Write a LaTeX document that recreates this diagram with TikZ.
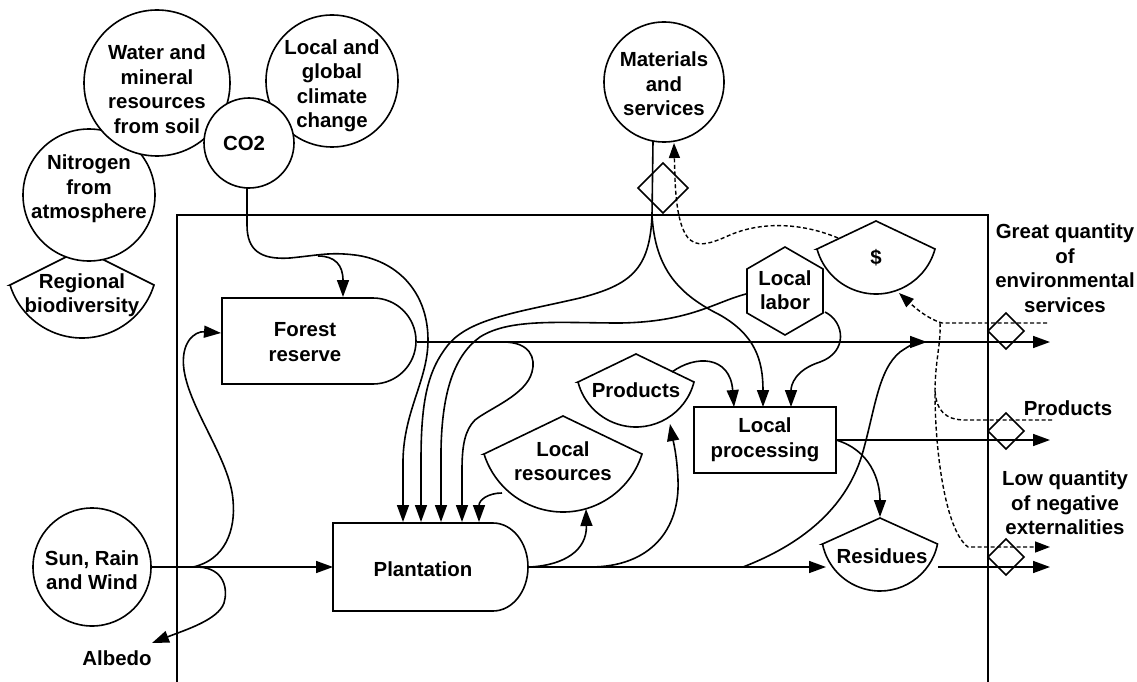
\documentclass[tikz,border=0pt]{standalone}
\usepackage{fontspec}
\setmainfont{Liberation Sans}
\usetikzlibrary{arrows.meta}
\newcommand{\drawtank}[5]{%
  \pgfmathsetmacro\tkd{#5-#3}%
  \pgfmathsetmacro\tkR{(#4*#4+\tkd*\tkd)/(2*\tkd)}%
  \pgfmathsetmacro\tka{asin((\tkR-\tkd)/\tkR)}%
  \pgfmathsetmacro\tkb{180-\tka}%
  \draw[fill=white] (#1-#4,#3) -- (#1,#2) -- (#1+#4,#3) arc[start angle=\tka, end angle=\tkb, radius=\tkR] -- cycle;}
\newcommand{\drawdiamond}[3]{%
  \draw (#1-#3,#2) -- (#1,#2-#3) -- (#1+#3,#2) -- (#1,#2+#3) -- cycle;}
\begin{document}
\begin{tikzpicture}[x=1pt,y=-1pt,line width=1.6pt,
  lbl/.style={font=\bfseries\fontsize{20.4}{24.5}\selectfont,align=center,inner sep=0pt},
  circ/.style={draw,circle,fill=white,inner sep=0pt},
  flow/.style={-{Triangle[length=17pt,width=12pt]}},
  money/.style={dash pattern=on 4pt off 2.5pt,line width=1.4pt},
  moneyflow/.style={money,-{Triangle[length=15pt,width=11pt]}}]
\useasboundingbox (0,0) rectangle (1137,682);

% system frame
\draw (177,682) -- (177,215) -- (988,215) -- (988,682);

% outside sources
\drawtank{82}{249}{285}{72}{338}
\node[lbl] (biodiv) at (82,295) {Regional\\biodiversity};
\node[circ,minimum size=132pt] (nitrogen) at (89,195) {};
\node[lbl] at (89,189) {Nitrogen\\from\\atmosphere};
\node[circ,minimum size=146pt] (water) at (157,83) {};
\node[lbl] at (157,89) {Water and\\mineral\\resources\\from soil};
\node[circ,minimum size=132pt] (climate) at (332,81) {};
\node[lbl] at (332,86) {Local and\\global\\climate\\change};
\node[circ,minimum size=90pt] (co2) at (249,143) {};
\node[lbl] at (244,143) {CO2};
\node[circ,minimum size=120pt] (materials) at (664,82) {};
\node[lbl] at (664,84) {Materials\\and\\services};
\node[circ,minimum size=118pt] (sun) at (92,567) {};
\node[lbl] at (92,570) {Sun, Rain\\and Wind};
\node[lbl] (albedo) at (117,658) {Albedo};

% inner storages / producers
\draw (222,298) -- (373,298) arc[start angle=-90,end angle=90,radius=43] -- (222,384) -- cycle;
\node[lbl] (forest) at (305,342) {Forest\\reserve};
\draw (333,523) -- (493,523) arc[start angle=-90,end angle=90,x radius=35,y radius=44] -- (333,611) -- cycle;
\node[lbl] (plantation) at (423,569) {Plantation};
\drawtank{563}{416}{454}{79}{512}
\node[lbl] (locres) at (563,461) {Local\\resources};
\drawtank{636}{354}{382}{58}{427}
\node[lbl] (products) at (636,390) {Products};
\node[draw,lbl,minimum width=142pt,minimum height=66pt] (proc) at (765,440) {Local\\processing};
\draw (785,247) -- (823,269) -- (823,313) -- (785,335) -- (747,313) -- (747,269) -- cycle;
\node[lbl] (labor) at (785,290) {Local\\labor};
\drawtank{876}{221}{249}{59}{294}
\node[lbl] (dollar) at (876,258) {\$};
\drawtank{880}{518}{544}{57.5}{591}
\node[lbl] (residues) at (882,556) {Residues};

% transactions
\drawdiamond{663}{188}{25}
\drawdiamond{1006}{331}{18}
\drawdiamond{1006}{431}{18}
\drawdiamond{1006}{557}{18}

% output labels
\node[lbl] (greatq) at (1065,268) {Great quantity\\of\\environmental\\services};
\node[lbl] (prodlbl) at (1068,408) {Products};
\node[lbl] (lowq) at (1065,503) {Low quantity\\of negative\\externalities};

% connection points
\coordinate (sunE) at (151,567);
\coordinate (plW) at (333,567);
\coordinate (sunJ) at (193,567);
\coordinate (sunJ2) at (198,567);
\coordinate (forW) at (221,333);
\coordinate (albT) at (152,643);
\coordinate (forE) at (417,342);
\coordinate (forJ) at (503,342);
\coordinate (esOut) at (1050,342);
\coordinate (esJ) at (927,342);
\coordinate (co2S) at (247,188);
\coordinate (co2J) at (318,256);
\coordinate (forN) at (343,297);
\coordinate (plN1) at (403,522);
\coordinate (plN2) at (421,522);
\coordinate (plN3) at (441,522);
\coordinate (plN4) at (462,522);
\coordinate (plN5) at (479,522);
\coordinate (matS) at (653,141);
\coordinate (matJ) at (652,215);
\coordinate (matSE) at (674,143);
\coordinate (procN1) at (734,407);
\coordinate (procN2) at (763,407);
\coordinate (procN3) at (791,407);
\coordinate (labW) at (746,294);
\coordinate (labSE) at (825,312);
\coordinate (prodNE) at (672,372);
\coordinate (prodS) at (670,424);
\coordinate (lrW) at (502,493);
\coordinate (lrS) at (586,509);
\coordinate (plE) at (528,567);
\coordinate (plJ1) at (530,567);
\coordinate (plJ2) at (590,567);
\coordinate (plJ3) at (743,567);
\coordinate (resW) at (826,567);
\coordinate (procE) at (836,440);
\coordinate (prodOut) at (1050,440);
\coordinate (resN) at (880,517);
\coordinate (resE) at (938,567);
\coordinate (resOut) at (1050,567);
\coordinate (dolS) at (899,293);
\coordinate (dolW) at (838,238);
\coordinate (mJ) at (940,323);
\coordinate (mES) at (1047,323);
\coordinate (mPR) at (1052,420);
\coordinate (mNX) at (1050,547);

% energy flows
\draw[flow] (sunE) -- (plW);
\draw[flow] (sunJ) .. controls (225,560) and (236,530) .. (233,500)
  .. controls (230,460) and (190,410) .. (184,370)
  .. controls (180,342) and (195,331) .. (forW);
\draw[flow] (sunJ2) .. controls (225,568) and (228,590) .. (224,603)
  .. controls (218,620) and (185,630) .. (albT);
\draw[flow] (forE) -- (esOut);
\draw[flow] (forJ) .. controls (530,342) and (536,358) .. (532,372)
  .. controls (526,395) and (490,408) .. (475,420)
  .. controls (465,430) and (462,445) .. (462,470) -- (plN4);
\draw[flow] (co2S) -- (247,225) .. controls (247,250) and (260,260) .. (290,258)
  .. controls (320,255) and (330,252) .. (355,255)
  .. controls (395,260) and (428,290) .. (428,340)
  .. controls (428,380) and (404,410) .. (403,460) -- (plN1);
\draw[flow] (co2J) .. controls (335,256) and (343,265) .. (forN);
\draw (matS) -- (matJ);
\draw[flow] (matJ) .. controls (650,270) and (630,285) .. (580,298)
  .. controls (520,312) and (470,318) .. (448,345)
  .. controls (428,370) and (421,400) .. (421,460) -- (plN2);
\draw[flow] (matJ) .. controls (655,270) and (680,295) .. (720,315)
  .. controls (755,335) and (763,360) .. (procN2);
\draw[flow] (labW) .. controls (715,302) and (690,322) .. (620,323)
  .. controls (560,323) and (510,318) .. (480,337)
  .. controls (455,355) and (442,390) .. (441,450) -- (plN3);
\draw[flow] (labSE) .. controls (845,322) and (848,352) .. (820,362)
  .. controls (795,370) and (791,385) .. (procN3);
\draw[flow] (prodNE) .. controls (695,355) and (730,355) .. (procN1);
\draw[flow] (lrW) .. controls (488,493) and (479,500) .. (plN5);
\draw[flow] (plE) -- (resW);
\draw[flow] (plJ1) .. controls (565,565) and (587,550) .. (lrS);
\draw[flow] (plJ2) .. controls (650,567) and (680,530) .. (678,480)
  .. controls (677,455) and (673,440) .. (prodS);
\draw[flow] (plJ3) .. controls (800,545) and (845,510) .. (862,455)
  .. controls (875,410) and (878,370) .. (900,352)
  .. controls (910,345) and (918,342) .. (esJ);
\draw[flow] (procE) -- (prodOut);
\draw[flow] (procE) .. controls (870,450) and (880,480) .. (resN);
\draw[flow] (resE) -- (resOut);

% money flows
\draw[moneyflow] (mES) -- (942,323) .. controls (925,318) and (910,303) .. (dolS);
\draw[moneyflow] (mJ) .. controls (941,345) and (935,360) .. (935,393)
  .. controls (935,450) and (945,530) .. (968,547) -- (mNX);
\draw[money] (mPR) -- (965,420) .. controls (945,420) and (936,410) .. (935,390);
\draw[moneyflow] (dolW) .. controls (800,222) and (760,222) .. (730,235)
  .. controls (712,243) and (695,250) .. (686,235)
  .. controls (678,222) and (676,200) .. (675,180) -- (matSE);
\end{tikzpicture}
\end{document}
